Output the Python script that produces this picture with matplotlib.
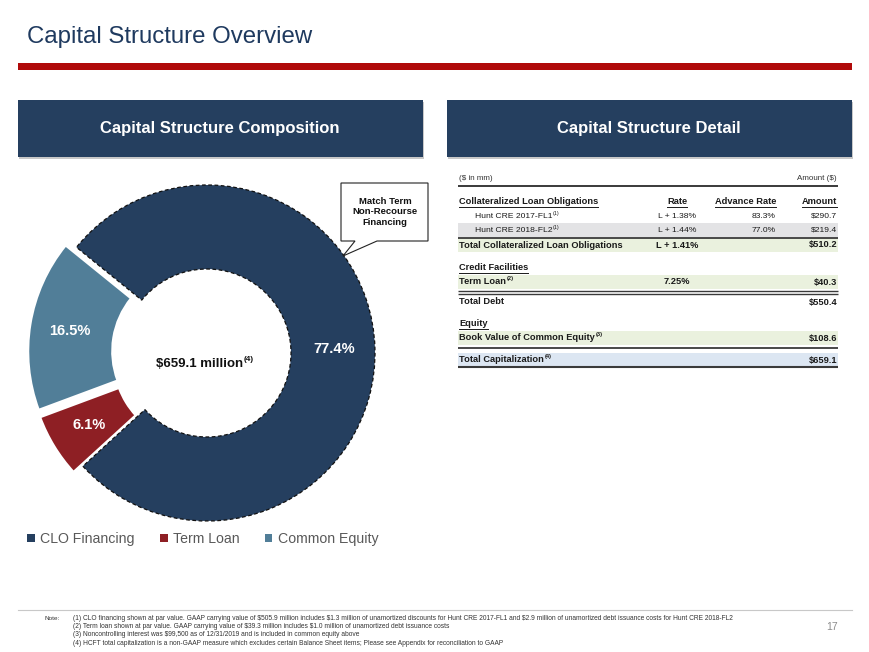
import matplotlib
matplotlib.use("Agg")
import matplotlib.pyplot as plt
from matplotlib.patches import Rectangle, Polygon, Patch

plt.rcParams['text.parse_math'] = False
plt.rcParams['font.family'] = ['Liberation Sans', 'DejaVu Sans']

# ---------------- data ----------------
categories = ["CLO Financing", "Term Loan", "Common Equity"]
shares = [77.4, 6.1, 16.5]
colors = ["#253F5F", "#8E1F24", "#517E98"]
center_total = "$659.1 million"

clo_names = ["Hunt CRE 2017-FL1", "Hunt CRE 2018-FL2"]
clo_rates = ["L + 1.38%", "L + 1.44%"]
clo_adv = ["83.3%", "77.0%"]
clo_amounts = ["$290.7", "$219.4"]
total_clo_rate = "L + 1.41%"
total_clo_amount = "$510.2"
term_loan_rate = "7.25%"
term_loan_amount = "$40.3"
total_debt = "$550.4"
book_equity = "$108.6"
total_cap = "$659.1"

footnotes = [
    "(1) CLO financing shown at par value. GAAP carrying value of $505.9 million includes $1.3 million of unamortized discounts for Hunt CRE 2017-FL1 and $2.9 million of unamortized debt issuance costs for Hunt CRE 2018-FL2",
    "(2) Term loan shown at par value. GAAP carrying value of $39.3 million includes $1.0 million of unamortized debt issuance costs",
    "(3) Noncontrolling interest was $99,500 as of 12/31/2019 and is included in common equity above",
    "(4) HCFT total capitalization is a non-GAAP measure which excludes certain Balance Sheet items; Please see Appendix for reconciliation to GAAP",
]

# ---------------- figure ----------------
W, H = 870, 652
fig = plt.figure(figsize=(W / 100, H / 100), dpi=100)
fig.patch.set_facecolor("white")

bg = fig.add_axes([0, 0, 1, 1], zorder=0)
bg.set_xlim(0, W); bg.set_ylim(H, 0); bg.axis("off")

NAVY = "#253F5F"
renderer = fig.canvas.get_renderer()


def txt(ax, x, y, s, sup=None, size=6.2, weight="normal", ha="left", color="#1a1a1a",
        underline=False, **kw):
    t = ax.text(x, y, s, fontsize=size, fontweight=weight, ha=ha, va="center",
                color=color, **kw)
    if sup is not None or underline:
        bb = t.get_window_extent(renderer=renderer)
        inv = ax.transData.inverted()
        x0, _ = inv.transform((bb.x0, bb.y0))
        x1, _ = inv.transform((bb.x1, bb.y0))
        if underline:
            ax.plot([x0, x1], [y + size * 0.75, y + size * 0.75], color=color, lw=0.7)
        if sup is not None:
            ax.text(x1 + 0.5, y - size * 0.45, sup, fontsize=size * 0.62, fontweight=weight,
                    ha="left", va="center", color=color)
    return t


# title & red rule
bg.text(27, 37, "Capital Structure Overview", fontsize=17.3, color="#1F3A5F",
        ha="left", va="center")
bg.add_patch(Rectangle((18, 63), 834, 7, facecolor="#B00A0A", edgecolor="none"))

# panel headers
for x0, label in [(18, "Capital Structure Composition"), (447, "Capital Structure Detail")]:
    bg.add_patch(Rectangle((x0 + 1, 102), 405, 57, facecolor="#C8C8C8", edgecolor="none"))
    bg.add_patch(Rectangle((x0, 100), 405, 57, facecolor=NAVY, edgecolor="none"))
    bg.text(x0 + 202, 129, label, fontsize=12, fontweight="bold", color="white",
            ha="center", va="center")

# ---------------- donut ----------------
cx, cy, R = 207, 353, 168
lim = 1.2
side = 2 * lim * R
ax_pie = fig.add_axes([(cx - side / 2) / W, (H - cy - side / 2) / H, side / W, side / H], zorder=2)
wedges, _, autotexts = ax_pie.pie(
    shares, colors=colors, startangle=141, counterclock=False,
    explode=[0, 0.065, 0.065], radius=1,
    wedgeprops=dict(width=0.5, edgecolor="white", linewidth=1.5),
    autopct=lambda p: f"{p:.1f}%", pctdistance=0.76,
    textprops=dict(color="white", fontsize=10.5, fontweight="bold"))
wedges[0].set_edgecolor("#111111")
wedges[0].set_linestyle((0, (3, 2)))
wedges[0].set_linewidth(0.9)
ax_pie.set_xlim(-lim, lim); ax_pie.set_ylim(-lim, lim)
ax_pie.axis("off")

# top overlay
top = fig.add_axes([0, 0, 1, 1], zorder=5)
top.set_xlim(0, W); top.set_ylim(H, 0); top.axis("off")
top.patch.set_alpha(0)

# center label
txt(top, 200, 364, center_total, sup="(4)", size=9.5, weight="bold", ha="center", color="#111111")

# callout
call = Polygon([(341, 183), (428, 183), (428, 241), (377, 241), (343, 256), (355, 241), (341, 241)],
               closed=True, facecolor="white", edgecolor="#222222", linewidth=0.8)
top.add_patch(call)
top.text(385, 212, "Match Term\nNon-Recourse\nFinancing", fontsize=6.8, fontweight="bold",
         ha="center", va="center", color="#111111", linespacing=1.25)

# legend
handles = [Patch(facecolor=c, edgecolor="none") for c in colors]
fig.legend(handles, categories, loc="center left", bbox_to_anchor=(27 / W, 1 - 539 / H),
           ncol=3, frameon=False, fontsize=10.2, labelcolor="#595959",
           handlelength=0.55, handleheight=0.55, handletextpad=0.4, columnspacing=1.75,
           borderaxespad=0, borderpad=0)

# ---------------- table ----------------
tx0, tx1 = 458, 838
x_lab, x_ind, x_rate, x_adv, x_amt = 459, 475, 677, 776, 837
DARK = "#3a3a3a"

def band(y0, y1, color):
    top.add_patch(Rectangle((tx0, y0), tx1 - tx0, y1 - y0, facecolor=color, edgecolor="none", zorder=0))

def hline(y, lw=1.2):
    top.plot([tx0, tx1], [y, y], color=DARK, lw=lw, solid_capstyle="butt")

band(223, 237, "#E3E3E5")
band(238, 252, "#EAF1DE")
band(275, 289, "#EAF1DE")
band(331, 345, "#EAF1DE")
band(353, 366, "#DCE6F2")

BS = 6.7
RS = 6.1
txt(top, x_lab, 179, "($ in mm)", size=5.8, color="#333333")
txt(top, x_amt, 179, "Amount ($)", size=5.8, ha="right", color="#333333")
hline(185.5, 1.4)

txt(top, x_lab, 202, "Collateralized Loan Obligations", size=BS, weight="bold", underline=True)
txt(top, x_rate, 202, "Rate", size=BS, weight="bold", ha="center", underline=True)
txt(top, x_adv, 202, "Advance Rate", size=BS, weight="bold", ha="right", underline=True)
txt(top, x_amt, 202, "Amount", size=BS, weight="bold", ha="right", underline=True)

for i, y in enumerate([216.5, 230]):
    txt(top, x_ind, y, clo_names[i], sup="(1)", size=RS)
    txt(top, x_rate, y, clo_rates[i], size=RS, ha="center")
    txt(top, x_adv, y, clo_adv[i], size=RS, ha="right")
    txt(top, x_amt, y, clo_amounts[i], size=RS, ha="right")
hline(237.5, 1.3)

txt(top, x_lab, 245, "Total Collateralized Loan Obligations", size=BS, weight="bold")
txt(top, x_rate, 245, total_clo_rate, size=BS, weight="bold", ha="center")
txt(top, x_amt, 245, total_clo_amount, size=BS, weight="bold", ha="right")

txt(top, x_lab, 268, "Credit Facilities", size=BS, weight="bold", underline=True)
txt(top, x_lab, 282, "Term Loan", sup="(2)", size=BS, weight="bold")
txt(top, x_rate, 282, term_loan_rate, size=BS, weight="bold", ha="center")
txt(top, x_amt, 282, term_loan_amount, size=BS, weight="bold", ha="right")
hline(290.5, 1.0)
hline(293.5, 1.0)

txt(top, x_lab, 302, "Total Debt", size=BS, weight="bold")
txt(top, x_amt, 302, total_debt, size=BS, weight="bold", ha="right")

txt(top, x_lab, 324, "Equity", size=BS, weight="bold", underline=True)
txt(top, x_lab, 338, "Book Value of Common Equity", sup="(3)", size=BS, weight="bold")
txt(top, x_amt, 338, book_equity, size=BS, weight="bold", ha="right")
hline(348, 1.3)

txt(top, x_lab, 360, "Total Capitalization", sup="(4)", size=BS, weight="bold")
txt(top, x_amt, 360, total_cap, size=BS, weight="bold", ha="right")
hline(367, 1.5)

# ---------------- footnotes ----------------
top.plot([18, 852], [610, 610], color="#C8C8C8", lw=0.8)
top.text(45, 618, "Note:", fontsize=4.6, color="#333333", ha="left", va="center")
for i, s in enumerate(footnotes):
    top.text(73, 618 + i * 8.5, s, fontsize=4.75, color="#333333", ha="left", va="center")
top.text(838, 627, "17", fontsize=7.5, color="#8C8C8C", ha="right", va="center")

fig.savefig("out.png", dpi=100, facecolor="white")
